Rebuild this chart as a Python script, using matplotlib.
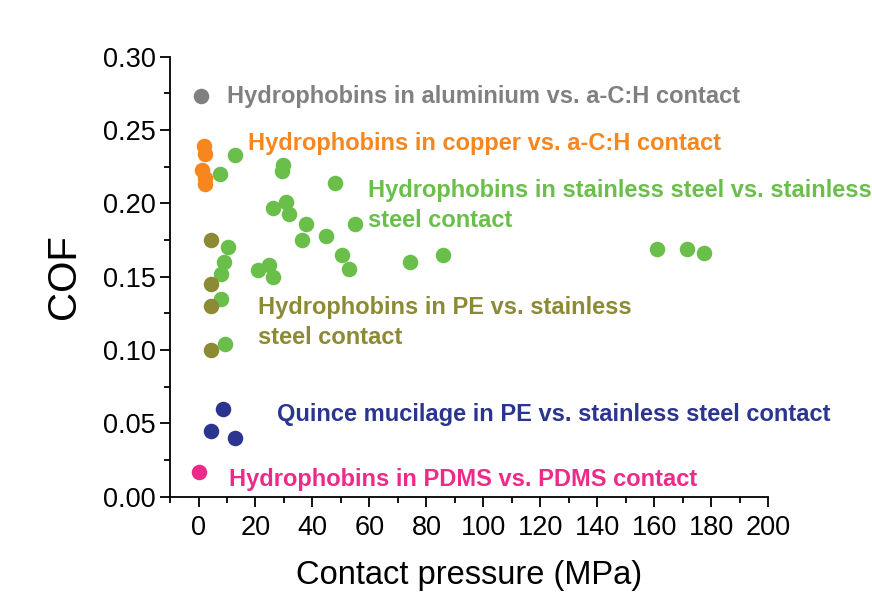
import matplotlib
matplotlib.use("Agg")
import matplotlib.pyplot as plt
from matplotlib.ticker import MultipleLocator

plt.rcParams['font.family'] = ['Liberation Sans', 'DejaVu Sans']

# Hydrophobins in aluminium vs. a-C:H
al_x = [1.0]
al_y = [0.273]

# Hydrophobins in copper vs. a-C:H
cu_x = [2.0, 2.3, 1.2, 2.3, 2.3]
cu_y = [0.239, 0.234, 0.223, 0.217, 0.213]

# Hydrophobins in stainless steel vs. stainless steel
ss_x = [7.4, 12.9, 29.6, 29.4, 48.0, 26.3, 30.8, 31.6, 37.8, 55.0,
        36.5, 44.8, 10.5, 8.8, 8.0, 20.8, 24.9, 26.3, 50.3, 53.0,
        74.3, 85.7, 8.0, 9.4, 160.8, 171.4, 177.4]
ss_y = [0.220, 0.233, 0.226, 0.222, 0.214, 0.197, 0.201, 0.193, 0.186, 0.186,
        0.175, 0.178, 0.170, 0.160, 0.152, 0.1545, 0.158, 0.150, 0.165, 0.155,
        0.160, 0.165, 0.135, 0.104, 0.1686, 0.169, 0.166]

# Hydrophobins in PE vs. stainless steel
pe_x = [4.3, 4.3, 4.3, 4.3]
pe_y = [0.175, 0.145, 0.130, 0.100]

# Quince mucilage in PE vs. stainless steel
qm_x = [8.5, 4.3, 12.9]
qm_y = [0.0595, 0.045, 0.040]

# Hydrophobins in PDMS vs. PDMS
pd_x = [0.0]
pd_y = [0.017]

fig = plt.figure(figsize=(8.72, 5.97), dpi=100)
ax = fig.add_axes([0.195, 0.168, 0.686, 0.737])

s = 125
ax.scatter(ss_x, ss_y, s=s, color='#6abf4b', zorder=3, linewidths=0)
ax.scatter(pe_x, pe_y, s=s, color='#8c8a35', zorder=3, linewidths=0)
ax.scatter(cu_x, cu_y, s=s, color='#f7861f', zorder=3, linewidths=0)
ax.scatter(al_x, al_y, s=s, color='#808080', zorder=3, linewidths=0)
ax.scatter(qm_x, qm_y, s=s, color='#2b3590', zorder=3, linewidths=0)
ax.scatter(pd_x, pd_y, s=s, color='#ec2a8a', zorder=3, linewidths=0)

fs = 17
kw = dict(fontsize=fs, fontweight='bold', va='center', ha='left', linespacing=1.36)
ax.text(10.1, 0.273, 'Hydrophobins in aluminium vs. a-C:H contact', color='#808080', **kw)
ax.text(17.4, 0.241, 'Hydrophobins in copper vs. a-C:H contact', color='#f7861f', **kw)
ax.text(59.5, 0.1985, 'Hydrophobins in stainless steel vs. stainless\nsteel contact', color='#6abf4b', **kw)
ax.text(20.9, 0.1188, 'Hydrophobins in PE vs. stainless\nsteel contact', color='#8c8a35', **kw)
ax.text(27.6, 0.0563, 'Quince mucilage in PE vs. stainless steel contact', color='#2b3590', **kw)
ax.text(10.8, 0.012, 'Hydrophobins in PDMS vs. PDMS contact', color='#ec2a8a', **kw)

ax.set_xlim(-10, 200)
ax.set_ylim(0, 0.30)
ax.xaxis.set_major_locator(MultipleLocator(20))
ax.xaxis.set_minor_locator(MultipleLocator(10))
ax.yaxis.set_major_locator(MultipleLocator(0.05))
ax.yaxis.set_minor_locator(MultipleLocator(0.025))
ax.yaxis.set_major_formatter(matplotlib.ticker.FormatStrFormatter('%.2f'))

for sp in ['top', 'right']:
    ax.spines[sp].set_visible(False)
for sp in ['left', 'bottom']:
    ax.spines[sp].set_linewidth(1.3)
ax.tick_params(which='major', direction='out', length=7, width=1.3, labelsize=19.5)
ax.tick_params(which='minor', direction='out', length=4, width=1.3)
ax.tick_params(axis='x', pad=6)

ax.set_xlabel('Contact pressure (MPa)', fontsize=23.5, labelpad=14)
ax.set_ylabel('COF', fontsize=29, labelpad=14)

fig.savefig('out.png', dpi=100)
